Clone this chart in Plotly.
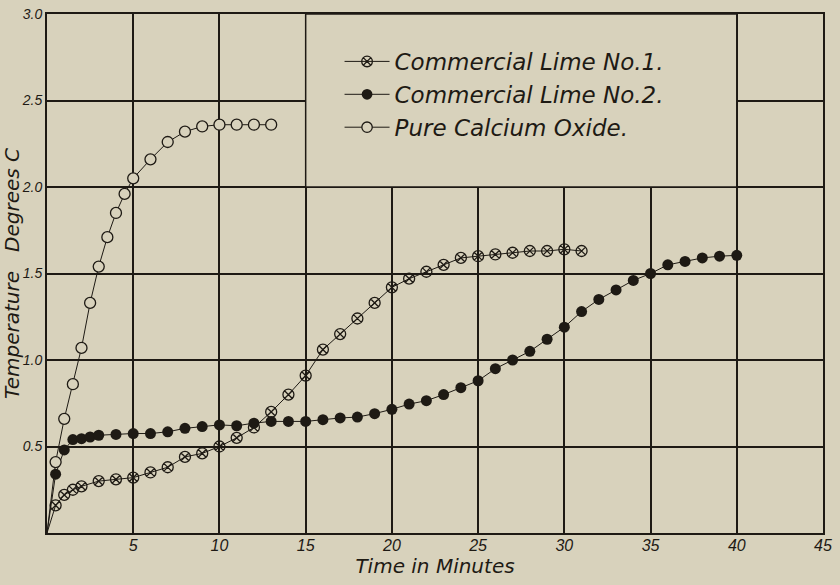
import plotly.graph_objects as go

# ---- data ----
cao_x = [0, 0.5, 1, 1.5, 2, 2.5, 3, 3.5, 4, 4.5, 5, 6, 7, 8, 9, 10, 11, 12, 13]
cao_y = [0, 0.41, 0.66, 0.86, 1.07, 1.33, 1.54, 1.71, 1.85, 1.96, 2.05, 2.16, 2.26, 2.32, 2.35, 2.36, 2.36, 2.36, 2.36]

lime1_x = [0, 0.5, 1, 1.5, 2, 3, 4, 5, 6, 7, 8, 9, 10, 11, 12, 13, 14, 15, 16, 17, 18, 19, 20,
           21, 22, 23, 24, 25, 26, 27, 28, 29, 30, 31]
lime1_y = [0, 0.16, 0.22, 0.25, 0.27, 0.30, 0.31, 0.32, 0.35, 0.38, 0.44, 0.46, 0.50, 0.55, 0.61,
           0.70, 0.80, 0.91, 1.06, 1.15, 1.24, 1.33, 1.42, 1.47, 1.51, 1.55, 1.59, 1.60, 1.61,
           1.62, 1.63, 1.63, 1.64, 1.63]

lime2_x = [0, 0.5, 1, 1.5, 2, 2.5, 3, 4, 5, 6, 7, 8, 9, 10, 11, 12, 13, 14, 15, 16, 17, 18, 19,
           20, 21, 22, 23, 24, 25, 26, 27, 28, 29, 30, 31, 32, 33, 34, 35, 36, 37, 38, 39, 40]
lime2_y = [0, 0.34, 0.48, 0.54, 0.545, 0.555, 0.565, 0.57, 0.575, 0.575, 0.585, 0.605, 0.615,
           0.625, 0.62, 0.635, 0.645, 0.645, 0.645, 0.655, 0.665, 0.67, 0.69, 0.715, 0.745,
           0.765, 0.80, 0.84, 0.88, 0.95, 1.00, 1.05, 1.12, 1.19, 1.28, 1.35, 1.405, 1.46,
           1.50, 1.55, 1.57, 1.59, 1.60, 1.605]

x_ticks = [5, 10, 15, 20, 25, 30, 35, 40, 45]
y_ticks = [0.5, 1.0, 1.5, 2.0, 2.5, 3.0]
y_tick_text = ["0.5", "1.0", "1.5", "2.0", "2.5", "3.0"]

names = ["Commercial Lime No.1.", "Commercial Lime No.2.", "Pure Calcium Oxide."]

BG = "#d8d2bc"
INK = "#1e1a14"
FONT = "DejaVu Sans"
TICKFONT = "Liberation Sans"


def sizes(xs, s):
    # hide the marker at the origin (line starts there, no symbol drawn)
    return [0 if v == 0 else s for v in xs]


fig = go.Figure()
fig.add_trace(go.Scatter(
    x=lime1_x, y=lime1_y, name=names[0], mode="lines+markers",
    line=dict(color=INK, width=1),
    marker=dict(symbol="circle-x-open", size=sizes(lime1_x, 11), color=INK, opacity=1,
                line=dict(width=1.3, color=INK)),
))
fig.add_trace(go.Scatter(
    x=lime2_x, y=lime2_y, name=names[1], mode="lines+markers",
    line=dict(color=INK, width=1),
    marker=dict(symbol="circle", size=sizes(lime2_x, 11), color=INK, opacity=1,
                line=dict(width=0)),
))
fig.add_trace(go.Scatter(
    x=cao_x, y=cao_y, name=names[2], mode="lines+markers",
    line=dict(color=INK, width=1),
    marker=dict(symbol="circle", size=sizes(cao_x, 11), color=BG, opacity=1,
                line=dict(width=1.3, color=INK)),
))

# legend panel (blank area without grid)
fig.add_shape(type="rect", xref="x", yref="y", x0=15, x1=40, y0=2.0, y1=3.0,
              fillcolor=BG, line=dict(color=INK, width=1.5), layer="above")

fig.update_layout(
    width=840, height=585,
    paper_bgcolor=BG, plot_bgcolor=BG,
    margin=dict(l=47, r=17, t=14, b=52),
    showlegend=True,
    legend=dict(x=0.377, y=0.950, xanchor="left", yanchor="top",
                bgcolor="rgba(0,0,0,0)", borderwidth=0, itemwidth=45,
                font=dict(family=FONT, size=23, color=INK, style="italic"),
                tracegroupgap=0),
    font=dict(family=FONT, color=INK),
)
fig.update_xaxes(
    range=[0, 45], tickvals=x_ticks, ticktext=[str(v) for v in x_ticks],
    showgrid=True, gridcolor=INK, gridwidth=1.5,
    showline=True, linecolor=INK, linewidth=2, mirror=True,
    ticks="", zeroline=False, automargin=False, ticklabelstandoff=-3,
    tickfont=dict(family=TICKFONT, size=16, color=INK, style="italic"),
    title=dict(text="Time in Minutes", standoff=2,
               font=dict(family=FONT, size=20, color=INK, style="italic")),
)
fig.update_yaxes(
    range=[0, 3.0], tickvals=y_ticks, ticktext=y_tick_text,
    showgrid=True, gridcolor=INK, gridwidth=1.5,
    showline=True, linecolor=INK, linewidth=2, mirror=True,
    ticks="", zeroline=False, ticklabelstandoff=0, automargin=False,
    tickfont=dict(family=TICKFONT, size=14, color=INK, style="italic"),
    title=dict(text="Temperature   Degrees C", standoff=0,
               font=dict(family=FONT, size=20, color=INK, style="italic")),
)

fig.write_html(
    "out.html",
    config={"displayModeBar": False},
    post_script="document.body.style.margin='0';"
                "document.body.style.background='" + BG + "';"
                "document.body.style.overflow='hidden';",
)
